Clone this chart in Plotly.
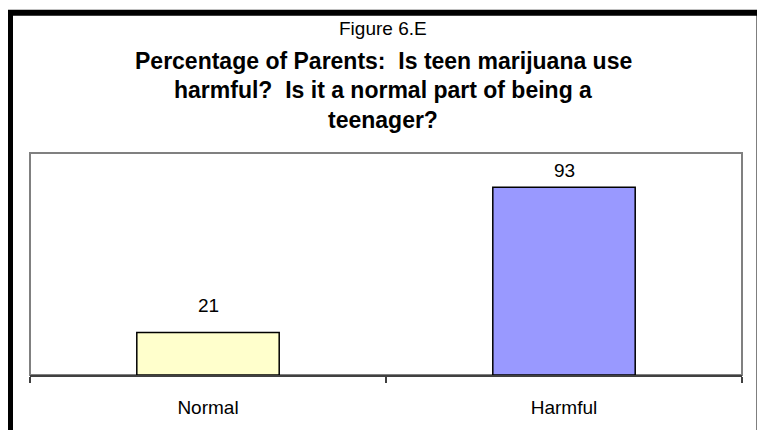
import plotly.graph_objects as go

# 數據
categories = ["Normal", "Harmful"]
values = [21, 93]
bar_colors = ["#FFFFCC", "#9999FF"]

fig_label = "Figure 6.E"
title_lines = [
    "Percentage of Parents:  Is teen marijuana use",
    "harmful?  Is it a normal part of being a",
    "teenager?",
]

# 版面：頁面 body 預設有 8px 邊距，故圖尺寸扣掉 8px
OFF = 8
W, H = 765 - OFF, 430 - OFF
X0, X1, Y0, Y1 = 30, 742, 153, 380   # 繪圖區（參考圖像素）
L, T = X0 - OFF, Y0 - OFF
R, B = W - (X1 - OFF), H - (Y1 - OFF)


def px(p):
    return (p - X0) / (X1 - X0)


def py(p):
    return (Y1 - p) / (Y1 - Y0)


FONT = "Arial, Liberation Sans, sans-serif"

fig = go.Figure(go.Bar(
    x=categories,
    y=values,
    marker=dict(color=bar_colors, line=dict(color="black", width=1.5)),
    hoverinfo="skip",
))

# 數值標籤
label_shift = [27, 17]
for c, v, s in zip(categories, values, label_shift):
    fig.add_annotation(x=c, y=v, text=str(v), showarrow=False, yanchor="middle",
                       yshift=s, font=dict(family=FONT, size=19, color="black"))

# 標題
fig.add_annotation(xref="paper", yref="paper", x=px(383), y=py(26), text=fig_label,
                   showarrow=False, xanchor="center", yanchor="middle",
                   font=dict(family=FONT, size=19, color="black"))
for i, line in enumerate(title_lines):
    fig.add_annotation(xref="paper", yref="paper", x=px(383), y=py(59 + 30 * i),
                       text=f"<b>{line}</b>", showarrow=False,
                       xanchor="center", yanchor="middle",
                       font=dict(family=FONT, size=23, color="black"))

# 外框與繪圖區框
fig.add_shape(type="rect", xref="paper", yref="paper",
              x0=px(10), x1=px(759.5), y0=py(470), y1=py(9.5),
              line=dict(color="black", width=6))
fig.add_shape(type="rect", xref="paper", yref="paper", x0=0, x1=1, y0=0, y1=1,
              line=dict(color="#808080", width=2), layer="below")

fig.update_layout(
    width=W, height=H,
    margin=dict(l=L, r=R, t=T, b=B, pad=0),
    paper_bgcolor="white",
    plot_bgcolor="rgba(0,0,0,0)",
    bargap=0.6,
    showlegend=False,
    font=dict(family=FONT, color="black"),
)
fig.update_xaxes(
    showline=True, linecolor="#404040", linewidth=2,
    ticks="outside", tickson="boundaries", ticklen=6, tickwidth=2, tickcolor="#404040",
    tickfont=dict(family=FONT, size=19, color="black"),
    ticklabelstandoff=14, showgrid=False,
)
fig.update_yaxes(range=[0, 110], showticklabels=False, showgrid=False,
                 zeroline=False, showline=False)

fig.write_html("out.html")
